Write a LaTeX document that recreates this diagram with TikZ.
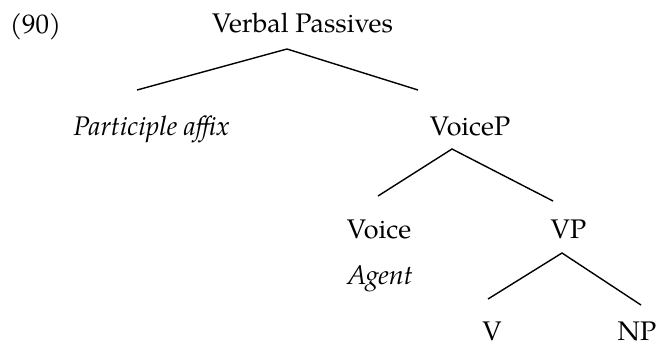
\documentclass[tikz,border=0pt]{standalone}
\usepackage{fontspec}
\setmainfont{TeX Gyre Pagella}
\begin{document}
\begin{tikzpicture}[x=1bp,y=-1bp,
  lbl/.style={anchor=base,inner sep=0pt,font=\fontsize{27}{32}\selectfont},
  leaf/.style={lbl,text depth=0pt},
  branch/.style={line width=1.4bp}]
\useasboundingbox (0,0) rectangle (656,345);
% labels
\node[lbl] (ex)    at (35.5,33)  {(90)};
\node[lbl] (root)  at (302.5,32) {Verbal Passives};
\node[lbl] (part)  at (151.5,135) {\itshape Participle affix};
\node[lbl] (voicep) at (470,135) {VoiceP};
\node[lbl] (voice) at (379,238) {Voice};
\node[lbl] (vp)    at (568.5,238) {VP};
\node[lbl] (agent) at (380,284) {\itshape Agent};
\node[leaf] (v)    at (492,340) {V};
\node[leaf] (np)   at (637,340) {NP};
% branch end points
\coordinate (root-b)   at (287,49);
\coordinate (part-t)   at (137,90);
\coordinate (voicep-t) at (418,90);
\coordinate (voicep-b) at (452,149);
\coordinate (voice-t)  at (378,196);
\coordinate (vp-t)     at (553,201);
\coordinate (vp-b)     at (562,253);
\coordinate (v-t)      at (488,299);
\coordinate (np-t)     at (641,305);
% branches
\draw[branch] (part-t) -- (root-b) -- (voicep-t);
\draw[branch] (voice-t) -- (voicep-b) -- (vp-t);
\draw[branch] (v-t) -- (vp-b) -- (np-t);
\end{tikzpicture}
\end{document}
